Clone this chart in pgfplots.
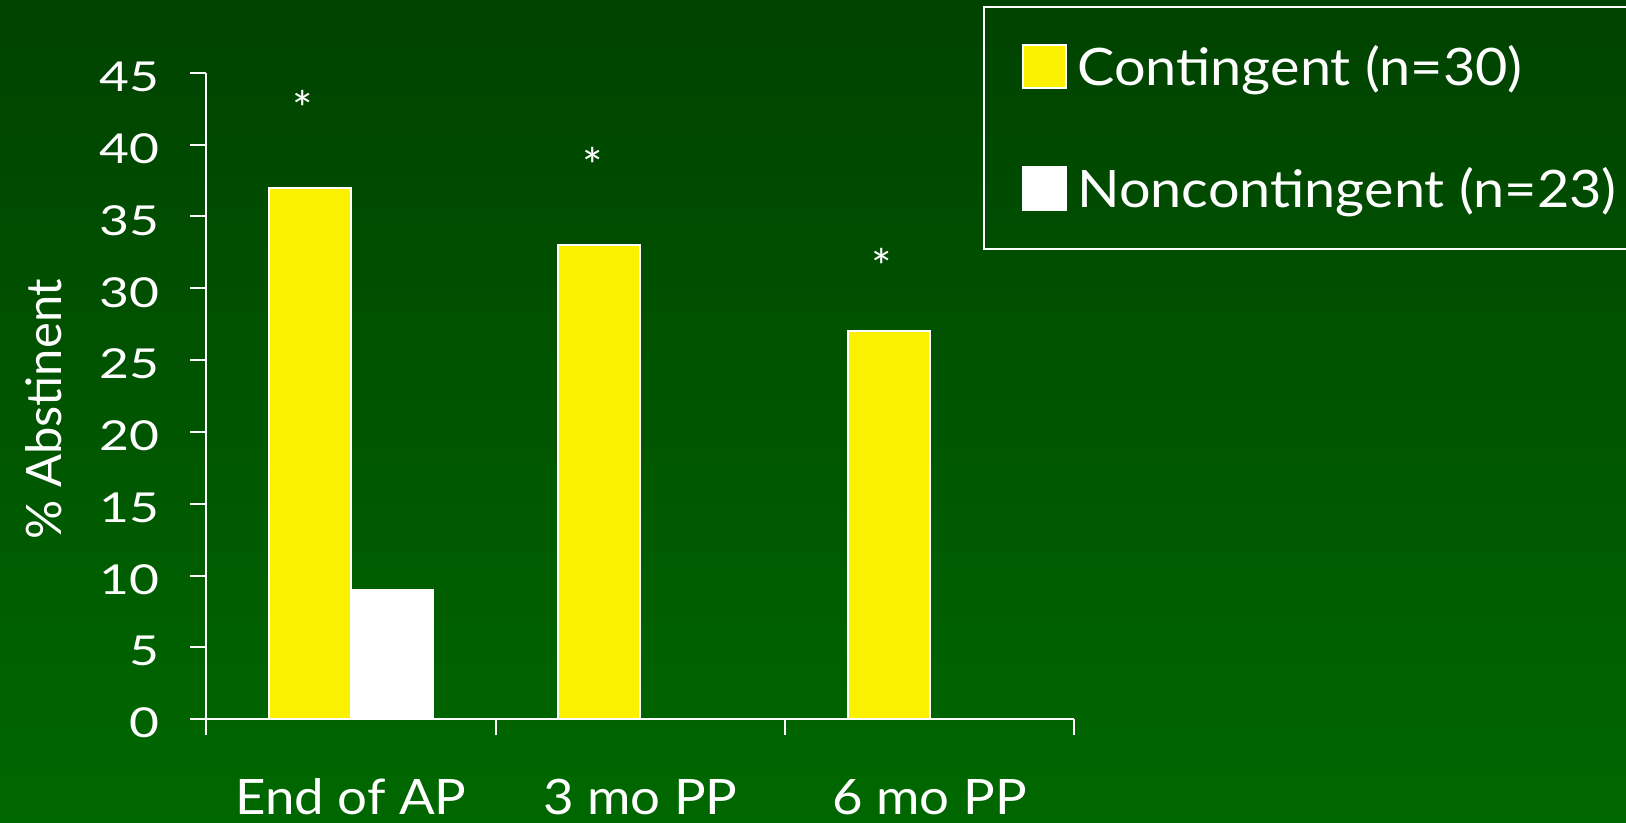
\documentclass[border=0pt]{standalone}
\usepackage{fontspec}
\setmainfont{Lato}
\newfontfamily\tickfont[FakeStretch=1.25]{Lato}
\newfontfamily\widefont[FakeStretch=1.08]{Lato}
\usepackage{pgfplots}
\pgfplotsset{compat=1.18}
\definecolor{bgtop}{RGB}{0,66,0}
\definecolor{bgbot}{RGB}{0,104,0}
\definecolor{baryellow}{RGB}{250,240,0}

\pgfplotstableread{
x  cont  noncont  star
0  37    9        43.1
1  33    0        39.1
2  27    0        32.1
}\abst

\begin{document}
\begin{tikzpicture}
\shade[top color=bgtop, bottom color=bgbot] (-2pt,-2pt) rectangle (815pt,412.5pt);
\begin{axis}[
  at={(103pt,51.35pt)}, anchor=south west,
  scale only axis, width=433.5pt, height=322.8pt,
  xmin=-0.5, xmax=2.5, ymin=0, ymax=45,
  clip=false,
  axis x line*=bottom, axis y line*=left,
  axis line style={white, line width=1pt},
  xtick={-0.5,0.5,1.5,2.5}, xticklabels={},
  extra x ticks={0,1,2},
  extra x tick labels={End of AP, 3 mo PP, 6 mo PP},
  extra x tick style={major tick length=0pt, tick style={draw=none},
    tick label style={font=\widefont\fontsize{24.4}{29}\selectfont, text=white, anchor=base, yshift=-47.35pt}},
  ytick={0,5,...,45},
  tick align=outside,
  major tick length=8pt,
  tick style={white, line width=1pt},
  yticklabel style={font=\tickfont\fontsize{20.6}{24}\selectfont, text=white, inner xsep=0pt, xshift=-15pt, yshift=-2pt},
  /pgf/number format/assume math mode=true,
  ylabel={\% Abstinent},
  every axis y label/.style={at={(axis description cs:-0.1874,0.48)}, rotate=90, anchor=center,
    font=\fontsize{24.4}{29}\selectfont, text=white},
  legend style={at={(axis description cs:0.8951,1.103)}, anchor=north west,
    draw=white, line width=1pt, fill=none, text=white,
    font=\widefont\fontsize{25.8}{31}\selectfont,
    inner xsep=19pt, inner ysep=18.5pt, row sep=38.5pt, column sep=5pt,
    nodes={inner sep=0pt}},
  legend cell align=left,
]
\addplot[ybar, bar width=41pt, bar shift=-20.5pt, fill=baryellow, draw=white, line width=1pt,
  legend image code/.code={\draw[fill=baryellow, draw=white, line width=1pt] (0pt,-10.75pt) rectangle (21.5pt,10.75pt);}]
  table[x=x, y=cont] {\abst};
\addlegendentry{Contingent (n=30)}
\addplot[ybar, bar width=41pt, bar shift=20.5pt, fill=white, draw=white, line width=1pt,
  legend image code/.code={\fill[white] (0pt,-10.75pt) rectangle (21.5pt,10.75pt);}]
  table[x=x, y=noncont] {\abst};
\addlegendentry{Noncontingent (n=23)\rule{30pt}{0pt}}
\addplot[draw=none, forget plot, nodes near coords={*},
  every node near coord/.append style={anchor=base, yshift=-13pt, xshift=-24pt,
    font=\fontsize{24}{28}\selectfont, text=white}]
  table[x=x, y=star] {\abst};
\end{axis}
\pgfresetboundingbox
\useasboundingbox (0pt,0pt) rectangle (812pt,410.5pt);
\end{tikzpicture}
\end{document}
